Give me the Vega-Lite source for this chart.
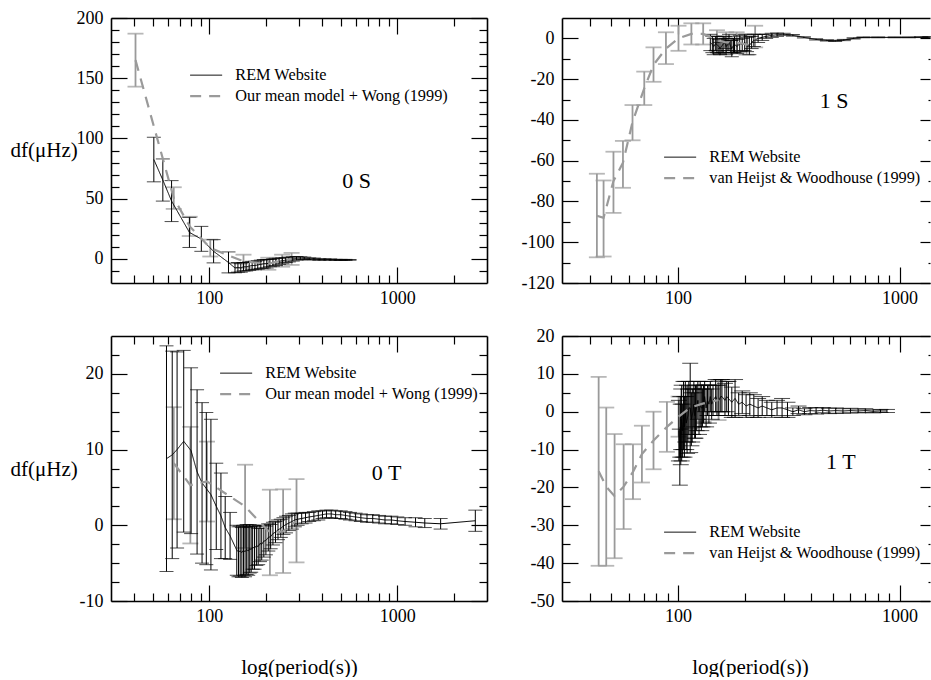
{
  "$schema": "https://vega.github.io/schema/vega-lite/v6.json",
  "padding": {"left": 10, "top": 9, "right": 0, "bottom": 0},
  "background": "white",
  "columns": 2,
  "spacing": {"row": 53, "column": 75},
  "bounds": "flush",
  "resolve": {
    "scale": {"color": "independent", "strokeDash": "independent", "strokeWidth": "independent"},
    "legend": {"color": "independent", "strokeDash": "independent", "strokeWidth": "independent"}
  },
  "config": {
    "font": "Liberation Serif",
    "view": {"stroke": null},
    "axis": {
      "grid": false, "labelFont": "Liberation Serif", "labelFontSize": 18, "labelColor": "black",
      "labelFlush": false, "labelOverlap": false, "labelBound": false,
      "tickColor": "black", "tickWidth": 1.2, "domainColor": "black", "domainWidth": 1.6,
      "titleFont": "Liberation Serif", "titleFontSize": 21, "titleFontWeight": "normal", "titleColor": "black"
    },
    "legend": {
      "orient": "none", "labelFont": "Liberation Serif", "labelFontSize": 16.3, "labelColor": "black", "labelLimit": 0,
      "symbolSize": 64, "labelOffset": 21, "rowPadding": 4, "padding": 0
    }
  },
  "datasets": {
    "p0s": [
      {"p":50.7,"v":82.5,"lo":64,"hi":101,"s":"REM Website"},
      {"p":56.6,"v":65.5,"lo":48,"hi":83,"s":"REM Website"},
      {"p":63,"v":48,"lo":31,"hi":65,"s":"REM Website"},
      {"p":78.4,"v":22,"lo":9.5,"hi":34.5,"s":"REM Website"},
      {"p":90.7,"v":16.5,"lo":6.3,"hi":27,"s":"REM Website"},
      {"p":105.4,"v":6.3,"lo":-3.3,"hi":16,"s":"REM Website"},
      {"p":126.5,"v":-3,"lo":-11.6,"hi":5.8,"s":"REM Website"},
      {"p":137,"v":-7.5,"lo":-11.5,"hi":-3.5,"s":"REM Website"},
      {"p":142,"v":-7,"lo":-11,"hi":-3,"s":"REM Website"},
      {"p":147,"v":-7.5,"lo":-11,"hi":-4,"s":"REM Website"},
      {"p":152,"v":-6.5,"lo":-10,"hi":-3,"s":"REM Website"},
      {"p":157,"v":-6.5,"lo":-10,"hi":-3,"s":"REM Website"},
      {"p":163,"v":-6,"lo":-9.5,"hi":-2.5,"s":"REM Website"},
      {"p":169,"v":-5.5,"lo":-9,"hi":-2,"s":"REM Website"},
      {"p":175,"v":-5.5,"lo":-9,"hi":-2,"s":"REM Website"},
      {"p":181,"v":-5,"lo":-8.5,"hi":-1.5,"s":"REM Website"},
      {"p":188,"v":-4.5,"lo":-8,"hi":-1,"s":"REM Website"},
      {"p":195,"v":-4,"lo":-7.5,"hi":-0.5,"s":"REM Website"},
      {"p":202,"v":-4,"lo":-7.5,"hi":-0.5,"s":"REM Website"},
      {"p":210,"v":-3.5,"lo":-6.5,"hi":-0.5,"s":"REM Website"},
      {"p":218,"v":-3,"lo":-6,"hi":0,"s":"REM Website"},
      {"p":226,"v":-2.5,"lo":-5.5,"hi":0.5,"s":"REM Website"},
      {"p":235,"v":-2,"lo":-4.5,"hi":0.5,"s":"REM Website"},
      {"p":245,"v":-1.5,"lo":-4,"hi":1,"s":"REM Website"},
      {"p":255,"v":-1,"lo":-3,"hi":1,"s":"REM Website"},
      {"p":265,"v":-0.5,"lo":-2.5,"hi":1.5,"s":"REM Website"},
      {"p":278,"v":0,"lo":-1.8,"hi":1.8,"s":"REM Website"},
      {"p":291,"v":0.5,"lo":-1,"hi":2,"s":"REM Website"},
      {"p":305,"v":0.5,"lo":-0.7,"hi":1.7,"s":"REM Website"},
      {"p":320,"v":0.5,"lo":-0.5,"hi":1.5,"s":"REM Website"},
      {"p":340,"v":0,"lo":-0.8,"hi":0.8,"s":"REM Website"},
      {"p":360,"v":0,"lo":-0.7,"hi":0.7,"s":"REM Website"},
      {"p":385,"v":-0.5,"lo":-1.1,"hi":0.1,"s":"REM Website"},
      {"p":410,"v":-0.5,"lo":-1,"hi":0,"s":"REM Website"},
      {"p":440,"v":-0.5,"lo":-1,"hi":0,"s":"REM Website"},
      {"p":470,"v":-0.8,"lo":-1.2,"hi":-0.4,"s":"REM Website"},
      {"p":500,"v":-0.8,"lo":-1.2,"hi":-0.4,"s":"REM Website"},
      {"p":530,"v":-0.8,"lo":-1.2,"hi":-0.4,"s":"REM Website"},
      {"p":557,"v":-0.8,"lo":-1.1,"hi":-0.5,"s":"REM Website"},
      {"p":40.5,"v":165,"lo":143,"hi":187,"s":"Our mean model + Wong (1999)"},
      {"p":64.7,"v":50.5,"lo":41.5,"hi":59.5,"s":"Our mean model + Wong (1999)"},
      {"p":78.7,"v":27,"lo":19,"hi":35,"s":"Our mean model + Wong (1999)"},
      {"p":101.2,"v":9,"lo":2,"hi":16,"s":"Our mean model + Wong (1999)"},
      {"p":152,"v":-2,"lo":-7.5,"hi":3.5,"s":"Our mean model + Wong (1999)"},
      {"p":206,"v":-4,"lo":-9,"hi":1,"s":"Our mean model + Wong (1999)"},
      {"p":244,"v":-1.5,"lo":-6.5,"hi":3.5,"s":"Our mean model + Wong (1999)"},
      {"p":274,"v":0,"lo":-5,"hi":5,"s":"Our mean model + Wong (1999)"}
    ],
    "p1s": [
      {"p":140,"v":-2,"lo":-6,"hi":2,"s":"REM Website"},
      {"p":143,"v":-3,"lo":-7,"hi":1,"s":"REM Website"},
      {"p":145,"v":-4,"lo":-8,"hi":0,"s":"REM Website"},
      {"p":148,"v":-2.5,"lo":-6,"hi":1,"s":"REM Website"},
      {"p":150,"v":-3,"lo":-7,"hi":1,"s":"REM Website"},
      {"p":153,"v":-4,"lo":-7.5,"hi":-0.5,"s":"REM Website"},
      {"p":155,"v":-5,"lo":-8,"hi":-2,"s":"REM Website"},
      {"p":158,"v":-3.5,"lo":-7,"hi":0,"s":"REM Website"},
      {"p":160,"v":-3,"lo":-7,"hi":1,"s":"REM Website"},
      {"p":163,"v":-2,"lo":-5,"hi":1,"s":"REM Website"},
      {"p":165,"v":-4,"lo":-8,"hi":0,"s":"REM Website"},
      {"p":168,"v":-3,"lo":-6,"hi":0,"s":"REM Website"},
      {"p":170,"v":-2,"lo":-6,"hi":2,"s":"REM Website"},
      {"p":173,"v":-4,"lo":-7,"hi":-1,"s":"REM Website"},
      {"p":175,"v":-5,"lo":-9,"hi":-1,"s":"REM Website"},
      {"p":178,"v":-3.5,"lo":-7,"hi":0,"s":"REM Website"},
      {"p":180,"v":-3,"lo":-7,"hi":1,"s":"REM Website"},
      {"p":185,"v":-4,"lo":-7.5,"hi":-0.5,"s":"REM Website"},
      {"p":190,"v":-2.5,"lo":-6.5,"hi":1.5,"s":"REM Website"},
      {"p":195,"v":-3,"lo":-6,"hi":0,"s":"REM Website"},
      {"p":200,"v":-2,"lo":-6,"hi":2,"s":"REM Website"},
      {"p":205,"v":-3,"lo":-6.5,"hi":0.5,"s":"REM Website"},
      {"p":210,"v":-3.5,"lo":-8,"hi":1,"s":"REM Website"},
      {"p":215,"v":-2,"lo":-5,"hi":1,"s":"REM Website"},
      {"p":220,"v":-1,"lo":-4,"hi":2,"s":"REM Website"},
      {"p":230,"v":0,"lo":-2,"hi":2,"s":"REM Website"},
      {"p":240,"v":0.5,"lo":-1,"hi":2,"s":"REM Website"},
      {"p":250,"v":1,"lo":0,"hi":2,"s":"REM Website"},
      {"p":265,"v":1.5,"lo":0.5,"hi":2.5,"s":"REM Website"},
      {"p":280,"v":1.8,"lo":1,"hi":2.6,"s":"REM Website"},
      {"p":300,"v":2,"lo":1.5,"hi":2.5,"s":"REM Website"},
      {"p":330,"v":1.5,"lo":1.1,"hi":1.9,"s":"REM Website"},
      {"p":370,"v":0.5,"lo":0.2,"hi":0.8,"s":"REM Website"},
      {"p":420,"v":-0.5,"lo":-0.8,"hi":-0.2,"s":"REM Website"},
      {"p":470,"v":-1,"lo":-1.3,"hi":-0.7,"s":"REM Website"},
      {"p":512,"v":-1.2,"lo":-1.5,"hi":-0.9,"s":"REM Website"},
      {"p":560,"v":-0.8,"lo":-1.1,"hi":-0.5,"s":"REM Website"},
      {"p":620,"v":0,"lo":-0.3,"hi":0.3,"s":"REM Website"},
      {"p":687,"v":0.5,"lo":0.3,"hi":0.7,"s":"REM Website"},
      {"p":800,"v":0.5,"lo":0.3,"hi":0.7,"s":"REM Website"},
      {"p":950,"v":0.5,"lo":0.3,"hi":0.7,"s":"REM Website"},
      {"p":1100,"v":0.5,"lo":0.3,"hi":0.7,"s":"REM Website"},
      {"p":1250,"v":0.6,"lo":0.4,"hi":0.8,"s":"REM Website"},
      {"p":1360,"v":0.6,"lo":0.3,"hi":0.9,"s":"REM Website"},
      {"p":43.1,"v":-87,"lo":-107.4,"hi":-66.4,"s":"van Heijst & Woodhouse (1999)"},
      {"p":46.2,"v":-88,"lo":-107,"hi":-69.7,"s":"van Heijst & Woodhouse (1999)"},
      {"p":51.2,"v":-70,"lo":-85.6,"hi":-55.6,"s":"van Heijst & Woodhouse (1999)"},
      {"p":56.5,"v":-61,"lo":-73.3,"hi":-50.3,"s":"van Heijst & Woodhouse (1999)"},
      {"p":62.4,"v":-41,"lo":-50,"hi":-32.7,"s":"van Heijst & Woodhouse (1999)"},
      {"p":70.5,"v":-24.5,"lo":-32.7,"hi":-16.3,"s":"van Heijst & Woodhouse (1999)"},
      {"p":77.6,"v":-13,"lo":-21.3,"hi":-4.4,"s":"van Heijst & Woodhouse (1999)"},
      {"p":88.3,"v":-5,"lo":-12.6,"hi":3,"s":"van Heijst & Woodhouse (1999)"},
      {"p":100.6,"v":0,"lo":-6.1,"hi":6.2,"s":"van Heijst & Woodhouse (1999)"},
      {"p":115,"v":2.2,"lo":-3,"hi":7.4,"s":"van Heijst & Woodhouse (1999)"},
      {"p":130,"v":2.2,"lo":-3,"hi":7.4,"s":"van Heijst & Woodhouse (1999)"},
      {"p":150,"v":-1,"lo":-6,"hi":4,"s":"van Heijst & Woodhouse (1999)"},
      {"p":165,"v":-2,"lo":-7,"hi":3,"s":"van Heijst & Woodhouse (1999)"},
      {"p":184,"v":-2,"lo":-7,"hi":3,"s":"van Heijst & Woodhouse (1999)"},
      {"p":204,"v":-3,"lo":-8,"hi":2,"s":"van Heijst & Woodhouse (1999)"},
      {"p":223,"v":0,"lo":-4.4,"hi":6.2,"s":"van Heijst & Woodhouse (1999)"}
    ],
    "p0t": [
      {"p":59.2,"v":8.8,"lo":-6.1,"hi":23.7,"s":"REM Website"},
      {"p":63.5,"v":9.3,"lo":-4.4,"hi":23,"s":"REM Website"},
      {"p":67.4,"v":10,"lo":-3,"hi":22.9,"s":"REM Website"},
      {"p":73.1,"v":11.1,"lo":-0.9,"hi":23.1,"s":"REM Website"},
      {"p":80,"v":9.85,"lo":-1.1,"hi":20.8,"s":"REM Website"},
      {"p":86.1,"v":7.05,"lo":-3.8,"hi":17.9,"s":"REM Website"},
      {"p":91.5,"v":5.6,"lo":-5,"hi":16.2,"s":"REM Website"},
      {"p":96.4,"v":4.85,"lo":-5.2,"hi":14.9,"s":"REM Website"},
      {"p":102,"v":4.05,"lo":-5.9,"hi":14,"s":"REM Website"},
      {"p":108.9,"v":2.5,"lo":-3.2,"hi":8.2,"s":"REM Website"},
      {"p":115.3,"v":1.25,"lo":-4.4,"hi":6.9,"s":"REM Website"},
      {"p":121.5,"v":-0.3,"lo":-4.4,"hi":3.8,"s":"REM Website"},
      {"p":129,"v":-1.4,"lo":-4.5,"hi":1.7,"s":"REM Website"},
      {"p":140,"v":-3.3,"lo":-6.6,"hi":0,"s":"REM Website"},
      {"p":143,"v":-3.5,"lo":-6.8,"hi":-0.2,"s":"REM Website"},
      {"p":146,"v":-3.4,"lo":-6.7,"hi":-0.1,"s":"REM Website"},
      {"p":149,"v":-3.6,"lo":-6.9,"hi":-0.3,"s":"REM Website"},
      {"p":152,"v":-3.3,"lo":-6.6,"hi":0,"s":"REM Website"},
      {"p":155,"v":-3.5,"lo":-6.8,"hi":-0.2,"s":"REM Website"},
      {"p":158,"v":-3.2,"lo":-6.5,"hi":0.1,"s":"REM Website"},
      {"p":161,"v":-3.4,"lo":-6.6,"hi":-0.2,"s":"REM Website"},
      {"p":164,"v":-3.1,"lo":-6.3,"hi":0.1,"s":"REM Website"},
      {"p":167,"v":-3.2,"lo":-6.2,"hi":-0.2,"s":"REM Website"},
      {"p":170,"v":-2.9,"lo":-5.8,"hi":0,"s":"REM Website"},
      {"p":174,"v":-3,"lo":-5.8,"hi":-0.2,"s":"REM Website"},
      {"p":178,"v":-2.7,"lo":-5.3,"hi":-0.1,"s":"REM Website"},
      {"p":182,"v":-2.8,"lo":-5.2,"hi":-0.4,"s":"REM Website"},
      {"p":186,"v":-2.4,"lo":-4.8,"hi":0,"s":"REM Website"},
      {"p":190,"v":-2.5,"lo":-4.6,"hi":-0.4,"s":"REM Website"},
      {"p":195,"v":-2.1,"lo":-4.2,"hi":0,"s":"REM Website"},
      {"p":200,"v":-2,"lo":-3.9,"hi":-0.1,"s":"REM Website"},
      {"p":206,"v":-1.6,"lo":-3.4,"hi":0.2,"s":"REM Website"},
      {"p":212,"v":-1.5,"lo":-3.1,"hi":0.1,"s":"REM Website"},
      {"p":218,"v":-1.1,"lo":-2.6,"hi":0.4,"s":"REM Website"},
      {"p":225,"v":-0.9,"lo":-2.3,"hi":0.5,"s":"REM Website"},
      {"p":232,"v":-0.6,"lo":-1.9,"hi":0.7,"s":"REM Website"},
      {"p":240,"v":-0.4,"lo":-1.6,"hi":0.8,"s":"REM Website"},
      {"p":248,"v":-0.1,"lo":-1.2,"hi":1,"s":"REM Website"},
      {"p":256,"v":0.1,"lo":-1,"hi":1.2,"s":"REM Website"},
      {"p":265,"v":0.3,"lo":-0.7,"hi":1.3,"s":"REM Website"},
      {"p":275,"v":0.5,"lo":-0.5,"hi":1.5,"s":"REM Website"},
      {"p":285,"v":0.7,"lo":-0.2,"hi":1.6,"s":"REM Website"},
      {"p":295,"v":0.8,"lo":0,"hi":1.6,"s":"REM Website"},
      {"p":310,"v":0.9,"lo":0.2,"hi":1.6,"s":"REM Website"},
      {"p":325,"v":1,"lo":0.3,"hi":1.7,"s":"REM Website"},
      {"p":340,"v":1.1,"lo":0.5,"hi":1.7,"s":"REM Website"},
      {"p":360,"v":1.2,"lo":0.6,"hi":1.8,"s":"REM Website"},
      {"p":380,"v":1.3,"lo":0.7,"hi":1.9,"s":"REM Website"},
      {"p":400,"v":1.4,"lo":0.9,"hi":1.9,"s":"REM Website"},
      {"p":420,"v":1.5,"lo":1,"hi":2,"s":"REM Website"},
      {"p":445,"v":1.5,"lo":1,"hi":2,"s":"REM Website"},
      {"p":470,"v":1.4,"lo":0.9,"hi":1.9,"s":"REM Website"},
      {"p":500,"v":1.4,"lo":0.9,"hi":1.9,"s":"REM Website"},
      {"p":530,"v":1.3,"lo":0.8,"hi":1.8,"s":"REM Website"},
      {"p":560,"v":1.2,"lo":0.7,"hi":1.7,"s":"REM Website"},
      {"p":600,"v":1.1,"lo":0.6,"hi":1.6,"s":"REM Website"},
      {"p":640,"v":1,"lo":0.5,"hi":1.5,"s":"REM Website"},
      {"p":690,"v":0.9,"lo":0.4,"hi":1.4,"s":"REM Website"},
      {"p":740,"v":0.9,"lo":0.4,"hi":1.4,"s":"REM Website"},
      {"p":800,"v":0.8,"lo":0.3,"hi":1.3,"s":"REM Website"},
      {"p":860,"v":0.7,"lo":0.2,"hi":1.2,"s":"REM Website"},
      {"p":930,"v":0.7,"lo":0.2,"hi":1.2,"s":"REM Website"},
      {"p":1000,"v":0.6,"lo":0.1,"hi":1.1,"s":"REM Website"},
      {"p":1100,"v":0.5,"lo":0,"hi":1,"s":"REM Website"},
      {"p":1250,"v":0.4,"lo":-0.2,"hi":1,"s":"REM Website"},
      {"p":1400,"v":0.3,"lo":-0.3,"hi":0.9,"s":"REM Website"},
      {"p":1700,"v":0.2,"lo":-0.5,"hi":0.9,"s":"REM Website"},
      {"p":2600,"v":0.6,"lo":-0.8,"hi":2,"s":"REM Website"},
      {"p":64.7,"v":8.2,"lo":0.8,"hi":15.6,"s":"Our mean model + Wong (1999)"},
      {"p":79.3,"v":5.3,"lo":-2.4,"hi":13,"s":"Our mean model + Wong (1999)"},
      {"p":97.2,"v":5.8,"lo":0.5,"hi":11.05,"s":"Our mean model + Wong (1999)"},
      {"p":155,"v":2.5,"lo":-3,"hi":8,"s":"Our mean model + Wong (1999)"},
      {"p":210,"v":-1,"lo":-6.6,"hi":4.7,"s":"Our mean model + Wong (1999)"},
      {"p":247,"v":-0.8,"lo":-6.3,"hi":4.75,"s":"Our mean model + Wong (1999)"},
      {"p":291,"v":0.6,"lo":-4.9,"hi":6.1,"s":"Our mean model + Wong (1999)"}
    ],
    "p1t": [
      {"p":101,"v":-5,"lo":-13,"hi":3,"s":"REM Website"},
      {"p":102,"v":-12,"lo":-19.4,"hi":-4.6,"s":"REM Website"},
      {"p":102.5,"v":-4,"lo":-12,"hi":4,"s":"REM Website"},
      {"p":103,"v":-6,"lo":-14,"hi":2,"s":"REM Website"},
      {"p":103.5,"v":-2,"lo":-10,"hi":6,"s":"REM Website"},
      {"p":104,"v":-3,"lo":-13,"hi":7,"s":"REM Website"},
      {"p":105,"v":-5,"lo":-12,"hi":2,"s":"REM Website"},
      {"p":106,"v":-1,"lo":-10,"hi":8,"s":"REM Website"},
      {"p":107,"v":-4,"lo":-12,"hi":4,"s":"REM Website"},
      {"p":108,"v":0,"lo":-8,"hi":8,"s":"REM Website"},
      {"p":109,"v":-3,"lo":-10,"hi":4,"s":"REM Website"},
      {"p":110,"v":-2,"lo":-11,"hi":7,"s":"REM Website"},
      {"p":111,"v":-1,"lo":-8,"hi":6,"s":"REM Website"},
      {"p":112,"v":1,"lo":-6,"hi":8,"s":"REM Website"},
      {"p":113.6,"v":1,"lo":-10.8,"hi":12.8,"s":"REM Website"},
      {"p":115,"v":-2,"lo":-9,"hi":5,"s":"REM Website"},
      {"p":116,"v":-1,"lo":-8,"hi":6,"s":"REM Website"},
      {"p":117,"v":0,"lo":-6,"hi":6,"s":"REM Website"},
      {"p":118,"v":2,"lo":-4,"hi":8,"s":"REM Website"},
      {"p":119,"v":-1,"lo":-7,"hi":5,"s":"REM Website"},
      {"p":120,"v":0,"lo":-7,"hi":7,"s":"REM Website"},
      {"p":121.5,"v":1,"lo":-5,"hi":7,"s":"REM Website"},
      {"p":123,"v":3,"lo":-2,"hi":8,"s":"REM Website"},
      {"p":124.5,"v":0,"lo":-6,"hi":6,"s":"REM Website"},
      {"p":126,"v":2,"lo":-4,"hi":8,"s":"REM Website"},
      {"p":127.5,"v":1,"lo":-5,"hi":7,"s":"REM Website"},
      {"p":129,"v":1,"lo":-4,"hi":6,"s":"REM Website"},
      {"p":130.5,"v":2,"lo":-3,"hi":7,"s":"REM Website"},
      {"p":132,"v":4,"lo":0,"hi":8,"s":"REM Website"},
      {"p":134,"v":1,"lo":-4,"hi":6,"s":"REM Website"},
      {"p":136,"v":3,"lo":-1,"hi":7,"s":"REM Website"},
      {"p":138,"v":2,"lo":-3,"hi":7,"s":"REM Website"},
      {"p":140,"v":4,"lo":0,"hi":8,"s":"REM Website"},
      {"p":142,"v":2,"lo":-2,"hi":6,"s":"REM Website"},
      {"p":144,"v":3,"lo":-1,"hi":7,"s":"REM Website"},
      {"p":148,"v":4,"lo":0,"hi":8.5,"s":"REM Website"},
      {"p":150,"v":3,"lo":-1,"hi":7,"s":"REM Website"},
      {"p":153,"v":3,"lo":-1,"hi":7,"s":"REM Website"},
      {"p":156,"v":4,"lo":0,"hi":8.5,"s":"REM Website"},
      {"p":158,"v":4,"lo":0,"hi":8.5,"s":"REM Website"},
      {"p":163,"v":3,"lo":-1,"hi":7.5,"s":"REM Website"},
      {"p":166,"v":4,"lo":0,"hi":8,"s":"REM Website"},
      {"p":169,"v":3.5,"lo":-1,"hi":8,"s":"REM Website"},
      {"p":175,"v":2.5,"lo":-1.5,"hi":6.5,"s":"REM Website"},
      {"p":181,"v":3.5,"lo":-1.5,"hi":8.5,"s":"REM Website"},
      {"p":188,"v":2,"lo":-1,"hi":5,"s":"REM Website"},
      {"p":195,"v":2.5,"lo":-0.5,"hi":5.5,"s":"REM Website"},
      {"p":203,"v":1.5,"lo":-1.5,"hi":4.5,"s":"REM Website"},
      {"p":211,"v":2,"lo":-1,"hi":5,"s":"REM Website"},
      {"p":220,"v":1.5,"lo":-1.5,"hi":4.5,"s":"REM Website"},
      {"p":230,"v":1,"lo":-1.5,"hi":3.5,"s":"REM Website"},
      {"p":240,"v":1.5,"lo":-1,"hi":4,"s":"REM Website"},
      {"p":252,"v":1,"lo":-1,"hi":3,"s":"REM Website"},
      {"p":265,"v":0.5,"lo":-1.5,"hi":2.5,"s":"REM Website"},
      {"p":280,"v":1,"lo":-1,"hi":3,"s":"REM Website"},
      {"p":295,"v":1,"lo":-1.5,"hi":3.5,"s":"REM Website"},
      {"p":312,"v":0.5,"lo":-1.5,"hi":2.5,"s":"REM Website"},
      {"p":330,"v":0,"lo":-1,"hi":1,"s":"REM Website"},
      {"p":350,"v":0.5,"lo":-0.5,"hi":1.5,"s":"REM Website"},
      {"p":372,"v":0,"lo":-0.8,"hi":0.8,"s":"REM Website"},
      {"p":395,"v":0.3,"lo":-0.5,"hi":1.1,"s":"REM Website"},
      {"p":420,"v":0.2,"lo":-0.6,"hi":1,"s":"REM Website"},
      {"p":450,"v":0.4,"lo":-0.3,"hi":1.1,"s":"REM Website"},
      {"p":480,"v":0.2,"lo":-0.5,"hi":0.9,"s":"REM Website"},
      {"p":515,"v":0.3,"lo":-0.4,"hi":1,"s":"REM Website"},
      {"p":555,"v":0.2,"lo":-0.4,"hi":0.8,"s":"REM Website"},
      {"p":600,"v":0.3,"lo":-0.3,"hi":0.9,"s":"REM Website"},
      {"p":650,"v":0.2,"lo":-0.3,"hi":0.7,"s":"REM Website"},
      {"p":700,"v":0.3,"lo":-0.2,"hi":0.8,"s":"REM Website"},
      {"p":760,"v":0.1,"lo":-0.3,"hi":0.5,"s":"REM Website"},
      {"p":820,"v":0.2,"lo":-0.2,"hi":0.6,"s":"REM Website"},
      {"p":877,"v":0.2,"lo":-0.2,"hi":0.6,"s":"REM Website"},
      {"p":43.9,"v":-15.7,"lo":-40.7,"hi":9.2,"s":"van Heijst & Woodhouse (1999)"},
      {"p":47.5,"v":-19.8,"lo":-40.7,"hi":1.1,"s":"van Heijst & Woodhouse (1999)"},
      {"p":51.8,"v":-22.3,"lo":-38.7,"hi":-5.9,"s":"van Heijst & Woodhouse (1999)"},
      {"p":56.9,"v":-19.8,"lo":-31,"hi":-8.6,"s":"van Heijst & Woodhouse (1999)"},
      {"p":62.7,"v":-15.9,"lo":-23.1,"hi":-8.6,"s":"van Heijst & Woodhouse (1999)"},
      {"p":68.8,"v":-11.2,"lo":-18.7,"hi":-3.7,"s":"van Heijst & Woodhouse (1999)"},
      {"p":77.6,"v":-7.6,"lo":-15.2,"hi":0,"s":"van Heijst & Woodhouse (1999)"},
      {"p":89.2,"v":-4,"lo":-10.6,"hi":2.6,"s":"van Heijst & Woodhouse (1999)"},
      {"p":100.7,"v":-1.3,"lo":-6.6,"hi":4,"s":"van Heijst & Woodhouse (1999)"},
      {"p":113.6,"v":1.1,"lo":-4.4,"hi":6.6,"s":"van Heijst & Woodhouse (1999)"},
      {"p":130.5,"v":2.2,"lo":-2.6,"hi":7,"s":"van Heijst & Woodhouse (1999)"},
      {"p":152.5,"v":3.1,"lo":-2.2,"hi":8.4,"s":"van Heijst & Woodhouse (1999)"}
    ]
  },
  "concat": [
    {
      "width": 376, "height": 265,
      "data": {"name": "p0s"},
      "resolve": {"axis": {"x": "independent", "y": "independent"}},
      "layer": [
        {
          "transform": [{"filter": "datum.s !== 'REM Website'"}],
          "mark": {"type": "errorbar", "orient": "vertical", "color": "#9a9a9a", "thickness": 1.8, "size": 16, "ticks": true},
          "encoding": {
            "x": {"field": "p", "type": "quantitative", "scale": {"type": "log", "domain": [30, 3000], "nice": false},
                  "axis": {"orient": "bottom", "values": [100, 1000], "tickSize": -16, "labelPadding": 22, "labelExpr": "toString(datum.value)", "title": null}},
            "y": {"field": "lo", "type": "quantitative", "scale": {"domain": [-20, 200], "nice": false, "zero": false},
                  "axis": {"orient": "left", "values": [0, 50, 100, 150, 200], "tickSize": -16, "labelPadding": 24, "labelExpr": "toString(datum.value)",
                           "title": "df(μHz)", "titleAngle": 0, "titleAlign": "left", "titleBaseline": "middle", "titleX": -101, "titleY": 132}},
            "y2": {"field": "hi"}
          }
        },
        {
          "transform": [{"filter": "datum.s === 'REM Website'"}],
          "mark": {"type": "errorbar", "orient": "vertical", "color": "black", "thickness": 1, "size": 14, "ticks": true},
          "encoding": {
            "x": {"field": "p", "type": "quantitative", "scale": {"type": "log", "domain": [30, 3000], "nice": false},
                  "axis": {"orient": "bottom", "values": [40, 50, 60, 70, 80, 90, 200, 300, 400, 500, 600, 700, 800, 900, 2000], "tickSize": -8, "labels": false, "domain": false, "title": null}},
            "y": {"field": "lo", "type": "quantitative", "scale": {"domain": [-20, 200], "nice": false, "zero": false},
                  "axis": {"orient": "left", "values": [-10, 10, 20, 30, 40, 60, 70, 80, 90, 110, 120, 130, 140, 160, 170, 180, 190], "tickSize": -8, "labels": false, "domain": false, "title": null}},
            "y2": {"field": "hi"}
          }
        },
        {
          "mark": {"type": "line"},
          "encoding": {
            "x": {"field": "p", "type": "quantitative", "scale": {"type": "log", "domain": [30, 3000], "nice": false},
                  "axis": {"orient": "top", "values": [100, 1000], "tickSize": -16, "labels": false, "title": null}},
            "y": {"field": "v", "type": "quantitative", "scale": {"domain": [-20, 200], "nice": false, "zero": false},
                  "axis": {"orient": "right", "values": [0, 50, 100, 150, 200], "tickSize": -16, "labels": false, "title": null}},
            "color": {"field": "s", "type": "nominal", "title": null, "scale": {"domain": ["REM Website", "Our mean model + Wong (1999)"], "range": ["black", "#9a9a9a"]},
                      "legend": {"legendX": 87, "legendY": 49, "symbolType": "M-4,0H4", "symbolSize": 64, "symbolFillColor": "transparent"}},
            "strokeDash": {"field": "s", "type": "nominal", "title": null, "scale": {"domain": ["REM Website", "Our mean model + Wong (1999)"], "range": [[1, 0], [11, 8]]},
                      "legend": {"legendX": 87, "legendY": 49, "symbolType": "M-4,0H4", "symbolSize": 64, "symbolFillColor": "transparent"}},
            "strokeWidth": {"field": "s", "type": "nominal", "title": null, "scale": {"type": "point", "padding": 0, "domain": ["REM Website", "Our mean model + Wong (1999)"], "range": [1, 2.2]},
                      "legend": {"legendX": 87, "legendY": 49, "symbolType": "M-4,0H4", "symbolSize": 64, "symbolFillColor": "transparent"}}
          }
        },
        {
          "data": {"values": [{"label": "0 S"}]},
          "mark": {"type": "text", "fontSize": 22, "font": "Liberation Serif", "align": "center", "baseline": "middle", "color": "black"},
          "encoding": {
            "x": {"datum": 607, "type": "quantitative", "scale": {"type": "log", "domain": [30, 3000], "nice": false},
                  "axis": {"orient": "top", "values": [40, 50, 60, 70, 80, 90, 200, 300, 400, 500, 600, 700, 800, 900, 2000], "tickSize": -8, "labels": false, "domain": false, "title": null}},
            "y": {"datum": 65, "type": "quantitative", "scale": {"domain": [-20, 200], "nice": false, "zero": false},
                  "axis": {"orient": "right", "values": [-10, 10, 20, 30, 40, 60, 70, 80, 90, 110, 120, 130, 140, 160, 170, 180, 190], "tickSize": -8, "labels": false, "domain": false, "title": null}},
            "text": {"field": "label"}
          }
        }
      ]
    },
    {
      "width": 368, "height": 265,
      "data": {"name": "p1s"},
      "resolve": {"axis": {"x": "independent", "y": "independent"}},
      "layer": [
        {
          "transform": [{"filter": "datum.s !== 'REM Website'"}],
          "mark": {"type": "errorbar", "orient": "vertical", "color": "#9a9a9a", "thickness": 1.8, "size": 16, "ticks": true},
          "encoding": {
            "x": {"field": "p", "type": "quantitative", "scale": {"type": "log", "domain": [30, 1371], "nice": false},
                  "axis": {"orient": "bottom", "values": [100, 1000], "tickSize": -16, "labelPadding": 22, "labelExpr": "toString(datum.value)", "title": null}},
            "y": {"field": "lo", "type": "quantitative", "scale": {"domain": [-120, 10], "nice": false, "zero": false},
                  "axis": {"orient": "left", "values": [-120, -100, -80, -60, -40, -20, 0], "tickSize": -16, "labelPadding": 24, "labelExpr": "toString(datum.value)", "title": null}},
            "y2": {"field": "hi"}
          }
        },
        {
          "transform": [{"filter": "datum.s === 'REM Website'"}],
          "mark": {"type": "errorbar", "orient": "vertical", "color": "black", "thickness": 1, "size": 14, "ticks": true},
          "encoding": {
            "x": {"field": "p", "type": "quantitative", "scale": {"type": "log", "domain": [30, 1371], "nice": false},
                  "axis": {"orient": "bottom", "values": [40, 50, 60, 70, 80, 90, 200, 300, 400, 500, 600, 700, 800, 900], "tickSize": -8, "labels": false, "domain": false, "title": null}},
            "y": {"field": "lo", "type": "quantitative", "scale": {"domain": [-120, 10], "nice": false, "zero": false},
                  "axis": {"orient": "left", "values": [-110, -90, -70, -50, -30, -10], "tickSize": -8, "labels": false, "domain": false, "title": null}},
            "y2": {"field": "hi"}
          }
        },
        {
          "mark": {"type": "line"},
          "encoding": {
            "x": {"field": "p", "type": "quantitative", "scale": {"type": "log", "domain": [30, 1371], "nice": false},
                  "axis": {"orient": "top", "values": [100, 1000], "tickSize": -16, "labels": false, "title": null}},
            "y": {"field": "v", "type": "quantitative", "scale": {"domain": [-120, 10], "nice": false, "zero": false},
                  "axis": {"orient": "right", "values": [-120, -100, -80, -60, -40, -20, 0], "tickSize": -10, "labels": false, "domain": false, "title": null}},
            "color": {"field": "s", "type": "nominal", "title": null, "scale": {"domain": ["REM Website", "van Heijst & Woodhouse (1999)"], "range": ["black", "#9a9a9a"]},
                      "legend": {"legendX": 110, "legendY": 131, "symbolType": "M-4,0H4", "symbolSize": 64, "symbolFillColor": "transparent"}},
            "strokeDash": {"field": "s", "type": "nominal", "title": null, "scale": {"domain": ["REM Website", "van Heijst & Woodhouse (1999)"], "range": [[1, 0], [11, 8]]},
                      "legend": {"legendX": 110, "legendY": 131, "symbolType": "M-4,0H4", "symbolSize": 64, "symbolFillColor": "transparent"}},
            "strokeWidth": {"field": "s", "type": "nominal", "title": null, "scale": {"type": "point", "padding": 0, "domain": ["REM Website", "van Heijst & Woodhouse (1999)"], "range": [1, 2.2]},
                      "legend": {"legendX": 110, "legendY": 131, "symbolType": "M-4,0H4", "symbolSize": 64, "symbolFillColor": "transparent"}}
          }
        },
        {
          "data": {"values": [{"label": "1 S"}]},
          "mark": {"type": "text", "fontSize": 22, "font": "Liberation Serif", "align": "center", "baseline": "middle", "color": "black"},
          "encoding": {
            "x": {"datum": 507, "type": "quantitative", "scale": {"type": "log", "domain": [30, 1371], "nice": false},
                  "axis": {"orient": "top", "values": [40, 50, 60, 70, 80, 90, 200, 300, 400, 500, 600, 700, 800, 900], "tickSize": -8, "labels": false, "domain": false, "title": null}},
            "y": {"datum": -30.7, "type": "quantitative", "scale": {"domain": [-120, 10], "nice": false, "zero": false},
                  "axis": {"orient": "right", "values": [-110, -90, -70, -50, -30, -10], "tickSize": -2, "labels": false, "domain": false, "title": null}},
            "text": {"field": "label"}
          }
        }
      ]
    },
    {
      "width": 376, "height": 265,
      "data": {"name": "p0t"},
      "resolve": {"axis": {"x": "independent", "y": "independent"}},
      "layer": [
        {
          "transform": [{"filter": "datum.s !== 'REM Website'"}],
          "mark": {"type": "errorbar", "orient": "vertical", "color": "#9a9a9a", "thickness": 1.8, "size": 16, "ticks": true},
          "encoding": {
            "x": {"field": "p", "type": "quantitative", "scale": {"type": "log", "domain": [30, 3000], "nice": false},
                  "axis": {"orient": "bottom", "values": [100, 1000], "tickSize": -16, "labelPadding": 22, "labelExpr": "toString(datum.value)",
                           "title": "log(period(s))", "titleX": 188, "titleY": 66, "titleBaseline": "middle", "titleAlign": "center"}},
            "y": {"field": "lo", "type": "quantitative", "scale": {"domain": [-10, 25], "nice": false, "zero": false},
                  "axis": {"orient": "left", "values": [-10, 0, 10, 20], "tickSize": -16, "labelPadding": 24, "labelExpr": "toString(datum.value)",
                           "title": "df(μHz)", "titleAngle": 0, "titleAlign": "left", "titleBaseline": "middle", "titleX": -101, "titleY": 133}},
            "y2": {"field": "hi"}
          }
        },
        {
          "transform": [{"filter": "datum.s === 'REM Website'"}],
          "mark": {"type": "errorbar", "orient": "vertical", "color": "black", "thickness": 1, "size": 14, "ticks": true},
          "encoding": {
            "x": {"field": "p", "type": "quantitative", "scale": {"type": "log", "domain": [30, 3000], "nice": false},
                  "axis": {"orient": "bottom", "values": [40, 50, 60, 70, 80, 90, 200, 300, 400, 500, 600, 700, 800, 900, 2000], "tickSize": -8, "labels": false, "domain": false, "title": null}},
            "y": {"field": "lo", "type": "quantitative", "scale": {"domain": [-10, 25], "nice": false, "zero": false},
                  "axis": {"orient": "left", "values": [-7.5, -5, -2.5, 2.5, 5, 7.5, 12.5, 15, 17.5, 22.5], "tickSize": -8, "labels": false, "domain": false, "title": null}},
            "y2": {"field": "hi"}
          }
        },
        {
          "mark": {"type": "line"},
          "encoding": {
            "x": {"field": "p", "type": "quantitative", "scale": {"type": "log", "domain": [30, 3000], "nice": false},
                  "axis": {"orient": "top", "values": [100, 1000], "tickSize": -16, "labels": false, "title": null}},
            "y": {"field": "v", "type": "quantitative", "scale": {"domain": [-10, 25], "nice": false, "zero": false},
                  "axis": {"orient": "right", "values": [-10, 0, 10, 20], "tickSize": -16, "labels": false, "title": null}},
            "color": {"field": "s", "type": "nominal", "title": null, "scale": {"domain": ["REM Website", "Our mean model + Wong (1999)"], "range": ["black", "#9a9a9a"]},
                      "legend": {"legendX": 117, "legendY": 29, "symbolType": "M-4,0H4", "symbolSize": 64, "symbolFillColor": "transparent"}},
            "strokeDash": {"field": "s", "type": "nominal", "title": null, "scale": {"domain": ["REM Website", "Our mean model + Wong (1999)"], "range": [[1, 0], [11, 8]]},
                      "legend": {"legendX": 117, "legendY": 29, "symbolType": "M-4,0H4", "symbolSize": 64, "symbolFillColor": "transparent"}},
            "strokeWidth": {"field": "s", "type": "nominal", "title": null, "scale": {"type": "point", "padding": 0, "domain": ["REM Website", "Our mean model + Wong (1999)"], "range": [1, 2.2]},
                      "legend": {"legendX": 117, "legendY": 29, "symbolType": "M-4,0H4", "symbolSize": 64, "symbolFillColor": "transparent"}}
          }
        },
        {
          "data": {"values": [{"label": "0 T"}]},
          "mark": {"type": "text", "fontSize": 22, "font": "Liberation Serif", "align": "center", "baseline": "middle", "color": "black"},
          "encoding": {
            "x": {"datum": 877, "type": "quantitative", "scale": {"type": "log", "domain": [30, 3000], "nice": false},
                  "axis": {"orient": "top", "values": [40, 50, 60, 70, 80, 90, 200, 300, 400, 500, 600, 700, 800, 900, 2000], "tickSize": -8, "labels": false, "domain": false, "title": null}},
            "y": {"datum": 6.9, "type": "quantitative", "scale": {"domain": [-10, 25], "nice": false, "zero": false},
                  "axis": {"orient": "right", "values": [-7.5, -5, -2.5, 2.5, 5, 7.5, 12.5, 15, 17.5, 22.5], "tickSize": -8, "labels": false, "domain": false, "title": null}},
            "text": {"field": "label"}
          }
        }
      ]
    },
    {
      "width": 368, "height": 265,
      "data": {"name": "p1t"},
      "resolve": {"axis": {"x": "independent", "y": "independent"}},
      "layer": [
        {
          "transform": [{"filter": "datum.s !== 'REM Website'"}],
          "mark": {"type": "errorbar", "orient": "vertical", "color": "#9a9a9a", "thickness": 1.8, "size": 16, "ticks": true},
          "encoding": {
            "x": {"field": "p", "type": "quantitative", "scale": {"type": "log", "domain": [30, 1371], "nice": false},
                  "axis": {"orient": "bottom", "values": [100, 1000], "tickSize": -16, "labelPadding": 22, "labelExpr": "toString(datum.value)",
                           "title": "log(period(s))", "titleX": 188, "titleY": 66, "titleBaseline": "middle", "titleAlign": "center"}},
            "y": {"field": "lo", "type": "quantitative", "scale": {"domain": [-50, 20], "nice": false, "zero": false},
                  "axis": {"orient": "left", "values": [-50, -40, -30, -20, -10, 0, 10, 20], "tickSize": -16, "labelPadding": 24, "labelExpr": "toString(datum.value)", "title": null}},
            "y2": {"field": "hi"}
          }
        },
        {
          "transform": [{"filter": "datum.s === 'REM Website'"}],
          "mark": {"type": "errorbar", "orient": "vertical", "color": "black", "thickness": 1, "size": 16, "ticks": true},
          "encoding": {
            "x": {"field": "p", "type": "quantitative", "scale": {"type": "log", "domain": [30, 1371], "nice": false},
                  "axis": {"orient": "bottom", "values": [40, 50, 60, 70, 80, 90, 200, 300, 400, 500, 600, 700, 800, 900], "tickSize": -8, "labels": false, "domain": false, "title": null}},
            "y": {"field": "lo", "type": "quantitative", "scale": {"domain": [-50, 20], "nice": false, "zero": false},
                  "axis": {"orient": "left", "values": [-45, -35, -25, -15, -5, 5, 15], "tickSize": -8, "labels": false, "domain": false, "title": null}},
            "y2": {"field": "hi"}
          }
        },
        {
          "mark": {"type": "line"},
          "encoding": {
            "x": {"field": "p", "type": "quantitative", "scale": {"type": "log", "domain": [30, 1371], "nice": false},
                  "axis": {"orient": "top", "values": [100, 1000], "tickSize": -16, "labels": false, "title": null}},
            "y": {"field": "v", "type": "quantitative", "scale": {"domain": [-50, 20], "nice": false, "zero": false},
                  "axis": {"orient": "right", "values": [-50, -40, -30, -20, -10, 0, 10, 20], "tickSize": -10, "labels": false, "domain": false, "title": null}},
            "color": {"field": "s", "type": "nominal", "title": null, "scale": {"domain": ["REM Website", "van Heijst & Woodhouse (1999)"], "range": ["black", "#9a9a9a"]},
                      "legend": {"legendX": 110, "legendY": 188, "symbolType": "M-4,0H4", "symbolSize": 64, "symbolFillColor": "transparent"}},
            "strokeDash": {"field": "s", "type": "nominal", "title": null, "scale": {"domain": ["REM Website", "van Heijst & Woodhouse (1999)"], "range": [[1, 0], [11, 8]]},
                      "legend": {"legendX": 110, "legendY": 188, "symbolType": "M-4,0H4", "symbolSize": 64, "symbolFillColor": "transparent"}},
            "strokeWidth": {"field": "s", "type": "nominal", "title": null, "scale": {"type": "point", "padding": 0, "domain": ["REM Website", "van Heijst & Woodhouse (1999)"], "range": [1, 2.2]},
                      "legend": {"legendX": 110, "legendY": 188, "symbolType": "M-4,0H4", "symbolSize": 64, "symbolFillColor": "transparent"}}
          }
        },
        {
          "data": {"values": [{"label": "1 T"}]},
          "mark": {"type": "text", "fontSize": 22, "font": "Liberation Serif", "align": "center", "baseline": "middle", "color": "black"},
          "encoding": {
            "x": {"datum": 543, "type": "quantitative", "scale": {"type": "log", "domain": [30, 1371], "nice": false},
                  "axis": {"orient": "top", "values": [40, 50, 60, 70, 80, 90, 200, 300, 400, 500, 600, 700, 800, 900], "tickSize": -8, "labels": false, "domain": false, "title": null}},
            "y": {"datum": -13.2, "type": "quantitative", "scale": {"domain": [-50, 20], "nice": false, "zero": false},
                  "axis": {"orient": "right", "values": [-45, -35, -25, -15, -5, 5, 15], "tickSize": -2, "labels": false, "domain": false, "title": null}},
            "text": {"field": "label"}
          }
        }
      ]
    }
  ]
}
